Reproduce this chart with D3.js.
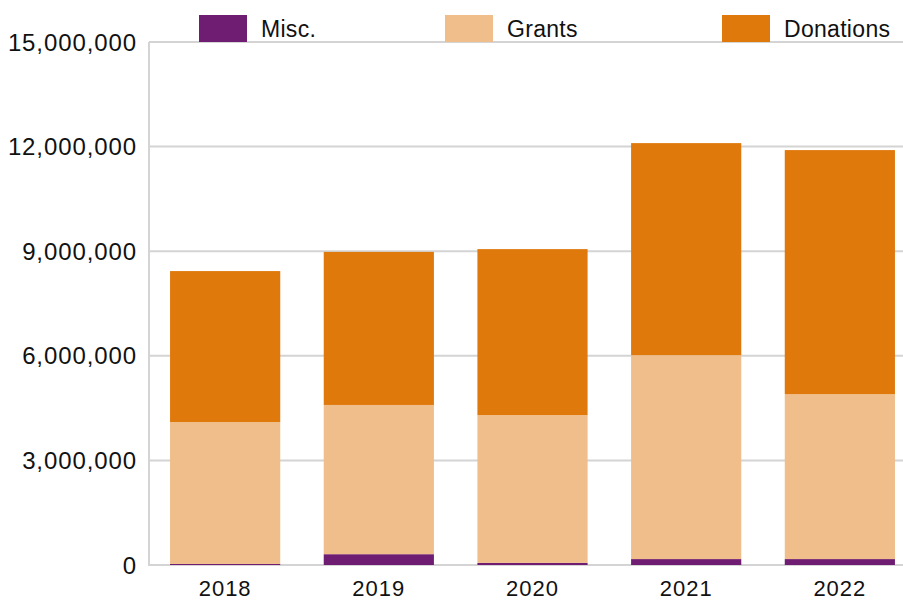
<!DOCTYPE html>
<html><head><meta charset="utf-8">
<script src="https://cdn.jsdelivr.net/npm/d3@7"></script>
<style>body{margin:0;background:#fff}svg{display:block}text{font-family:"Liberation Sans",Arial,sans-serif;fill:#111}</style>
</head><body><svg id="c" width="903" height="601"></svg>
<script>
const years = ["2018","2019","2020","2021","2022"];
const misc = [30000, 310000, 60000, 170000, 170000];
const grants = [4070000, 4280000, 4240000, 5850000, 4730000];
const donations = [4330000, 4390000, 4760000, 6080000, 7000000];
const yTicks = [0, 3000000, 6000000, 9000000, 12000000, 15000000];
const seriesNames = ["Misc.", "Grants", "Donations"];
const colors = ["#6f1d73", "#f0be8a", "#df790c"];

const rows = years.map((y,i)=>({year:y, "Misc.":misc[i], "Grants":grants[i], "Donations":donations[i]}));
const stack = d3.stack().keys(seriesNames)(rows);

const svg = d3.select("#c");
const x = d3.scaleBand().domain(years).range([149, 916]).paddingInner(0.283).paddingOuter(0.137);
const y = d3.scaleLinear().domain([0, 15000000]).range([565, 42]);

// gridlines
svg.append("g").selectAll("line").data(yTicks).join("line")
  .attr("x1",149).attr("x2",903).attr("y1",d=>y(d)).attr("y2",d=>y(d))
  .attr("stroke","#d4d4d4").attr("stroke-width",2);
svg.append("line").attr("x1",149).attr("x2",149).attr("y1",42).attr("y2",566)
  .attr("stroke","#d4d4d4").attr("stroke-width",2);

// y labels
svg.append("g").selectAll("text").data(yTicks).join("text")
  .attr("x",137).attr("y",d=>y(d)).attr("dy","0.36em").attr("text-anchor","end")
  .style("font-size","24px").style("letter-spacing","0.9px").text(d=>d3.format(",")(d));

// bars
svg.append("g").selectAll("g").data(stack).join("g").attr("fill",(d,i)=>colors[i])
  .selectAll("rect").data(d=>d).join("rect")
  .attr("x",d=>x(d.data.year)).attr("width",x.bandwidth())
  .attr("y",d=>y(d[1])).attr("height",d=>y(d[0])-y(d[1]));

// x labels
svg.append("g").selectAll("text").data(years).join("text")
  .attr("x",d=>x(d)+x.bandwidth()/2).attr("y",596).attr("text-anchor","middle")
  .style("font-size","22px").style("letter-spacing","1px").text(d=>d);

// legend
const legX = [199, 445, 722];
const lg = svg.append("g").selectAll("g").data(seriesNames).join("g");
lg.append("rect").attr("x",(d,i)=>legX[i]).attr("y",15).attr("width",48).attr("height",27).attr("fill",(d,i)=>colors[i]);
lg.append("text").attr("x",(d,i)=>legX[i]+62).attr("y",29).attr("dy","0.36em")
  .style("font-size","23px").style("letter-spacing","0.3px").text(d=>d);
</script></body></html>
